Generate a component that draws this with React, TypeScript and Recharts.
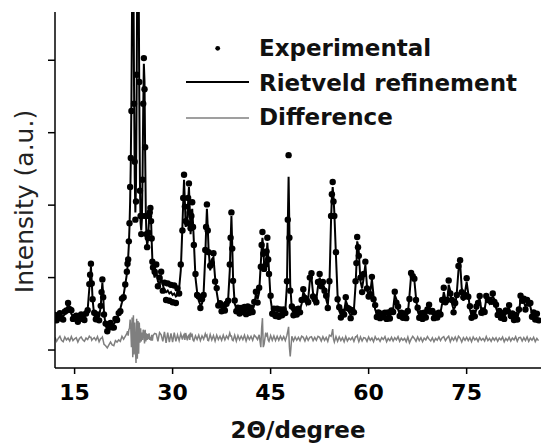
import { ComposedChart, Line, Scatter, XAxis, YAxis } from 'recharts';

// 2-theta grid (degrees), finer around the strongest reflections
const twoTheta = [
  12, 12.25, 12.5, 12.75, 13, 13.25, 13.5, 13.75, 14, 14.25, 14.5, 14.75,
  15, 15.25, 15.5, 15.75, 16, 16.25, 16.5, 16.75, 17, 17.25, 17.375, 17.5, 17.625, 17.75,
  18, 18.25, 18.5, 18.75, 19, 19.125, 19.25, 19.375, 19.5, 19.75, 20, 20.25, 20.5, 20.75,
  21, 21.25, 21.5, 21.75, 22, 22.25, 22.5, 22.75,
  23, 23.1, 23.2, 23.3, 23.4, 23.5, 23.6, 23.7, 23.8, 23.9,
  24, 24.1, 24.2, 24.3, 24.4, 24.5, 24.6, 24.7, 24.8, 24.9,
  25, 25.1, 25.2, 25.3, 25.4, 25.5, 25.6, 25.7, 25.8, 25.9,
  26, 26.1, 26.2, 26.3, 26.4, 26.5, 26.6, 26.7, 26.8, 26.9,
  27,
  27.25, 27.5, 27.75, 28, 28.25, 28.5, 28.75, 29, 29.25, 29.5, 29.75, 30, 30.25, 30.5, 30.75, 31,
  31.25, 31.5, 31.625, 31.75, 31.875, 32, 32.25, 32.375, 32.5, 32.625, 32.75, 32.875, 33, 33.125, 33.25,
  33.5, 33.75, 34, 34.25, 34.5, 34.75, 35,
  35.125, 35.25, 35.375, 35.5, 35.75, 36, 36.25, 36.5, 36.75, 37, 37.25, 37.5, 37.75, 38, 38.25, 38.5,
  38.75, 38.875, 39, 39.125,
  39.25, 39.5, 39.75, 40, 40.25, 40.5, 40.75, 41, 41.25, 41.5, 41.75, 42, 42.25, 42.5, 42.75, 43,
  43.25, 43.5, 43.625, 43.75, 43.875, 44, 44.25, 44.375, 44.5, 44.625, 44.75, 45, 45.25, 45.5, 45.75, 46,
  46.25, 46.5, 46.75, 47,
  47.25, 47.5, 47.625, 47.75, 47.875, 48, 48.25, 48.5, 48.75, 49, 49.25, 49.5, 49.75, 50, 50.25, 50.5,
  50.75, 51,
  51.25, 51.5, 51.75, 52, 52.25, 52.5, 52.75, 53, 53.25, 53.5, 53.75, 54, 54.25, 54.375, 54.5, 54.625,
  54.75, 55,
  55.25, 55.5, 55.75, 56, 56.25, 56.5, 56.75, 57, 57.25, 57.5, 57.75, 58, 58.125, 58.25, 58.375, 58.5,
  58.75, 59,
  59.25, 59.5, 59.75, 60, 60.25, 60.5, 60.75, 61, 61.25, 61.5, 61.75, 62, 62.25, 62.5, 62.75, 63,
  63.25, 63.5, 63.75, 64, 64.25, 64.5, 64.75, 65, 65.25, 65.5, 65.75, 66, 66.25, 66.5, 66.75, 67,
  67.25, 67.5, 67.75, 68, 68.25, 68.5, 68.75, 69, 69.25, 69.5, 69.75, 70, 70.25, 70.5, 70.75, 71,
  71.25, 71.5, 71.75, 72, 72.25, 72.5, 72.75, 73, 73.25, 73.5, 73.75, 74, 74.25, 74.5, 74.75, 75,
  75.25, 75.5, 75.75, 76, 76.25, 76.5, 76.75, 77, 77.25, 77.5, 77.75, 78, 78.25, 78.5, 78.75, 79,
  79.25, 79.5, 79.75, 80, 80.25, 80.5, 80.75, 81, 81.25, 81.5, 81.75, 82, 82.25, 82.5, 82.75, 83,
  83.25, 83.5, 83.75, 84, 84.25, 84.5, 84.75, 85, 85.25, 85.5, 85.75, 86,
];

const observed = [
  485, 410, 465, 510, 435, 420, 530, 545, 650, 565, 550, 430,
  455, 475, 390, 465, 490, 430, 415, 505, 550, 910, 1040, 1190, 920, 700,
  515, 425, 490, 410, 610, 800, 975, 730, 490, 365, 260, 310, 375, 315,
  310, 430, 415, 510, 535, 710, 730, 905,
  1080, 1190, 1250, 1500, 1750, 2250, 2650, 3300, 5000, 6000,
  5600, 3400, 2600, 1800, 2050, 3800, 5000, 6600, 4900, 3700,
  2200, 1850, 1600, 1850, 2350, 3400, 4030, 3600, 2800, 1850,
  1600, 1420, 1550, 1620, 1850, 1900, 1960, 1780, 1540, 1220,
  1140,
  1080, 1180, 880, 1000, 1080, 820, 930, 690, 920, 680, 900, 660, 890, 650, 850, 780,
  1180, 1650, 2100, 2420, 1980, 1780, 1750, 2100, 2300, 1900, 1680, 1850, 2040, 1700, 1450,
  1050, 760, 740, 580, 700, 760, 1380,
  1700, 2010, 1650, 1350, 1165, 1195, 1335, 945, 855, 615, 645, 535, 615, 545, 640, 680,
  1180, 1550, 1900, 1400,
  955, 685, 535, 585, 505, 580, 525, 595, 495, 600, 515, 585, 525, 665, 805, 655,
  860, 1150, 1450, 1630, 1330, 1120, 1180, 1360, 1550, 1250, 1050, 750, 500, 570, 470, 570,
  460, 560, 480, 560,
  510, 950, 1800, 2690, 1550, 820, 600, 480, 560, 490, 570, 520, 690, 840, 720, 690,
  660, 1000,
  1060, 740, 700, 660, 940, 1050, 880, 940, 820, 750, 580, 950, 1850, 2150, 2320, 2050,
  1850, 1350,
  700, 590, 450, 530, 490, 730, 580, 570, 440, 550, 520, 950, 1200, 1560, 1420, 1300,
  1000, 800,
  1050, 1220, 850, 740, 770, 1010, 700, 620, 455, 520, 440, 500, 455, 515, 430, 520,
  435, 545, 525, 805, 655, 600, 470, 515, 445, 505, 440, 540, 705, 1065, 1020, 985,
  690, 585, 445, 510, 430, 515, 450, 560, 625, 530, 540, 440, 500, 450, 515, 490,
  690, 860, 660, 690, 960, 780, 690, 520, 650, 760, 1160, 1240, 800, 730, 760, 990,
  735, 605, 445, 515, 465, 600, 650, 745, 515, 545, 525, 745, 690, 695, 665, 780,
  665, 625, 485, 540, 445, 510, 430, 545, 535, 620, 470, 505, 415, 485, 420, 560,
  750, 680, 710, 560, 690, 640, 650, 460, 520, 420, 500, 410,
];

const calculated = [
  450, 450, 455, 455, 460, 470, 490, 560, 630, 600, 500, 460,
  450, 445, 445, 450, 445, 450, 460, 480, 560, 850, 1000, 1150, 950, 700,
  480, 450, 440, 460, 600, 780, 930, 760, 520, 330, 300, 300, 320, 340,
  360, 390, 430, 490, 570, 660, 760, 900,
  1050, 1150, 1280, 1450, 1700, 2050, 2600, 3500, 4800, 6200,
  5200, 3600, 2400, 1900, 2300, 3600, 5400, 6400, 5200, 3500,
  2300, 1750, 1650, 1800, 2400, 3300, 3950, 3700, 2700, 1900,
  1550, 1450, 1500, 1650, 1800, 1920, 1950, 1800, 1500, 1250,
  1100,
  1000, 1100, 950, 900, 1000, 900, 820, 800, 820, 780, 800, 760, 780, 740, 760, 850,
  1100, 1700, 2050, 2350, 2050, 1700, 1800, 2050, 2250, 1950, 1600, 1800, 1950, 1750, 1500,
  1000, 800, 680, 620, 640, 800, 1300,
  1650, 1950, 1700, 1400, 1100, 1250, 1280, 1000, 800, 660, 600, 580, 570, 580, 600, 700,
  1100, 1500, 1850, 1450,
  1000, 640, 580, 540, 550, 540, 560, 540, 550, 560, 550, 540, 560, 620, 780, 700,
  800, 1200, 1400, 1550, 1400, 1200, 1100, 1300, 1480, 1300, 1100, 700, 540, 520, 510, 520,
  500, 510, 520, 510,
  550, 900, 1700, 2390, 1650, 900, 560, 520, 510, 530, 520, 560, 640, 800, 760, 640,
  700, 950,
  1000, 780, 650, 700, 880, 1000, 920, 900, 860, 700, 620, 900, 1800, 2100, 2250, 2100,
  1900, 1300,
  750, 540, 490, 480, 530, 680, 620, 520, 480, 500, 560, 900, 1150, 1500, 1450, 1350,
  950, 850,
  1000, 1180, 880, 700, 800, 980, 750, 560, 500, 480, 470, 460, 480, 470, 460, 480,
  470, 500, 560, 760, 700, 560, 500, 470, 480, 460, 470, 500, 750, 1030, 980, 960,
  720, 540, 480, 470, 460, 470, 480, 520, 600, 560, 500, 470, 460, 480, 470, 520,
  640, 800, 700, 640, 900, 820, 640, 560, 600, 800, 1100, 1200, 850, 680, 800, 940,
  780, 560, 480, 470, 500, 560, 680, 700, 560, 500, 560, 700, 720, 650, 700, 740,
  700, 580, 520, 500, 480, 470, 460, 500, 570, 580, 500, 460, 450, 440, 450, 520,
  700, 720, 660, 600, 640, 680, 600, 500, 470, 460, 450, 450,
];

const difference = [
  175, 120, 160, 190, 135, 115, 180, 140, 165, 125, 185, 130,
  155, 170, 110, 160, 180, 140, 120, 165, 145, 190, 175, 175, 135, 150,
  170, 135, 185, 115, 160, 165, 180, 130, 80, 60, 30, 70, 110, 70,
  60, 130, 110, 140, 120, 190, 150, 190,
  230, 260, 200, 280, 300, 420, 300, 40, 450, -100,
  480, -60, 380, 60, -180, 430, -120, 400, -50, 380,
  100, 300, 120, 240, 140, 280, 250, 90, 280, 120,
  230, 140, 220, 150, 230, 140, 180, 130, 210, 130,
  200,
  230, 220, 120, 240, 210, 120, 250, 100, 240, 110, 230, 110, 240, 120, 210, 130,
  225, 145, 195, 215, 140, 235, 135, 190, 205, 140, 240, 195, 210, 140, 125,
  195, 145, 205, 130, 195, 150, 225,
  190, 205, 135, 130, 215, 140, 200, 125, 205, 145, 190, 135, 205, 140, 195, 155,
  235, 195, 195, 140,
  130, 205, 125, 200, 140, 190, 145, 205, 125, 195, 145, 190, 135, 205, 180, 145,
  210, 40, 300, 440, 40, 80, 240, 200, 220, 140, 120, 200, 135, 195, 130, 190,
  135, 190, 140, 185,
  130, 205, 260, 320, 40, -90, 190, 125, 180, 135, 175, 130, 190, 175, 125, 185,
  135, 175,
  185, 130, 175, 135, 190, 175, 125, 185, 135, 175, 120, 205, 190, 230, 290, 150,
  110, 185,
  120, 180, 130, 170, 115, 185, 125, 165, 140, 175, 120, 185, 185, 200, 150, 115,
  180, 125,
  170, 165, 120, 180, 135, 165, 115, 185, 140, 160, 120, 170, 145, 185, 115, 160,
  130, 175, 125, 170, 140, 185, 120, 165, 135, 160, 115, 180, 100, 150, 190, 160,
  120, 180, 130, 170, 115, 165, 140, 185, 150, 125, 170, 115, 160, 135, 180, 130,
  170, 185, 130, 165, 190, 115, 170, 135, 180, 125, 190, 165, 110, 170, 135, 175,
  130, 170, 115, 180, 140, 165, 120, 175, 135, 160, 125, 185, 130, 160, 120, 170,
  135, 170, 120, 165, 140, 180, 115, 160, 130, 175, 125, 165, 140, 185, 120, 170,
  175, 125, 170, 130, 180, 120, 165, 135, 175, 115, 160, 130,
];

const xTicks = [15, 30, 45, 60, 75];
const yTicks = [0, 1000, 2000, 3000, 4000];
const legendLabels = ['Experimental', 'Rietveld refinement', 'Difference'];

const X_DOMAIN: [number, number] = [12, 86.38];
const Y_DOMAIN: [number, number] = [-248, 4666];
const FONT = '"DejaVu Sans", Verdana, sans-serif';

const data = twoTheta.map((x, i) => ({
  x,
  obs: observed[i],
  calc: calculated[i],
  diff: difference[i],
}));

function ObsDot(props: any) {
  const { cx, cy } = props;
  if (cx == null || cy == null) return null;
  return <circle cx={cx} cy={cy} r={3.2} fill="#000" />;
}

const blank = () => '';

export default function App() {
  return (
    <div style={{ position: 'absolute', left: 0, top: 0, width: 541, height: 444, background: '#fff' }}>
      <ComposedChart width={541} height={444} data={data} margin={{ top: 12, right: 0, bottom: 0, left: 0 }}>
        <XAxis
          dataKey="x"
          type="number"
          domain={X_DOMAIN}
          ticks={xTicks}
          allowDataOverflow
          height={76}
          stroke="#000"
          strokeWidth={1.5}
          tickSize={6}
          tickMargin={10}
          tick={{ fill: '#000', fontSize: 22, fontWeight: 700, fontFamily: FONT }}
        />
        <XAxis
          xAxisId="top"
          orientation="top"
          dataKey="x"
          type="number"
          domain={X_DOMAIN}
          ticks={xTicks}
          allowDataOverflow
          height={0}
          mirror
          tickSize={6}
          tickFormatter={blank}
          stroke="#000"
          strokeWidth={1.5}
        />
        <YAxis
          type="number"
          domain={Y_DOMAIN}
          ticks={yTicks}
          allowDataOverflow
          width={55}
          tickSize={7}
          tickFormatter={blank}
          stroke="#000"
          strokeWidth={1.5}
        />
        <YAxis
          yAxisId="right"
          orientation="right"
          type="number"
          domain={Y_DOMAIN}
          ticks={yTicks}
          allowDataOverflow
          width={0}
          mirror
          tickSize={5}
          tickFormatter={blank}
          stroke="#000"
          strokeWidth={1.5}
        />
        <Line dataKey="diff" stroke="#7f7f7f" strokeWidth={1.5} dot={false} isAnimationActive={false} />
        <Line dataKey="calc" stroke="#000" strokeWidth={2} dot={false} isAnimationActive={false} />
        <Scatter dataKey="obs" shape={ObsDot} isAnimationActive={false} />
        <Line
          xAxisId="top"
          yAxisId="right"
          dataKey="calc"
          stroke="none"
          dot={false}
          legendType="none"
          isAnimationActive={false}
        />
      </ComposedChart>
      <svg width={541} height={444} style={{ position: 'absolute', left: 0, top: 0, pointerEvents: 'none' }}>
        <circle cx={217.7} cy={48.3} r={2.4} fill="#000" />
        <line x1={186} x2={249} y1={82} y2={82} stroke="#000" strokeWidth={1.8} />
        <line x1={186} x2={249} y1={118} y2={118} stroke="#7f7f7f" strokeWidth={1.5} />
        {legendLabels.map((label, i) => (
          <text key={label} x={259} y={56 + i * 34.5} fontFamily={FONT} fontWeight={700} fontSize={23} fill="#111">
            {label}
          </text>
        ))}
        <text
          transform="translate(32.7,201.5) rotate(-90)"
          textAnchor="middle"
          fontFamily={FONT}
          fontSize={25}
          fill="#222"
        >
          Intensity (a.u.)
        </text>
        <text x={298} y={438} textAnchor="middle" fontFamily={FONT} fontWeight={700} fontSize={23} fill="#111">
          2Θ/degree
        </text>
      </svg>
    </div>
  );
}
